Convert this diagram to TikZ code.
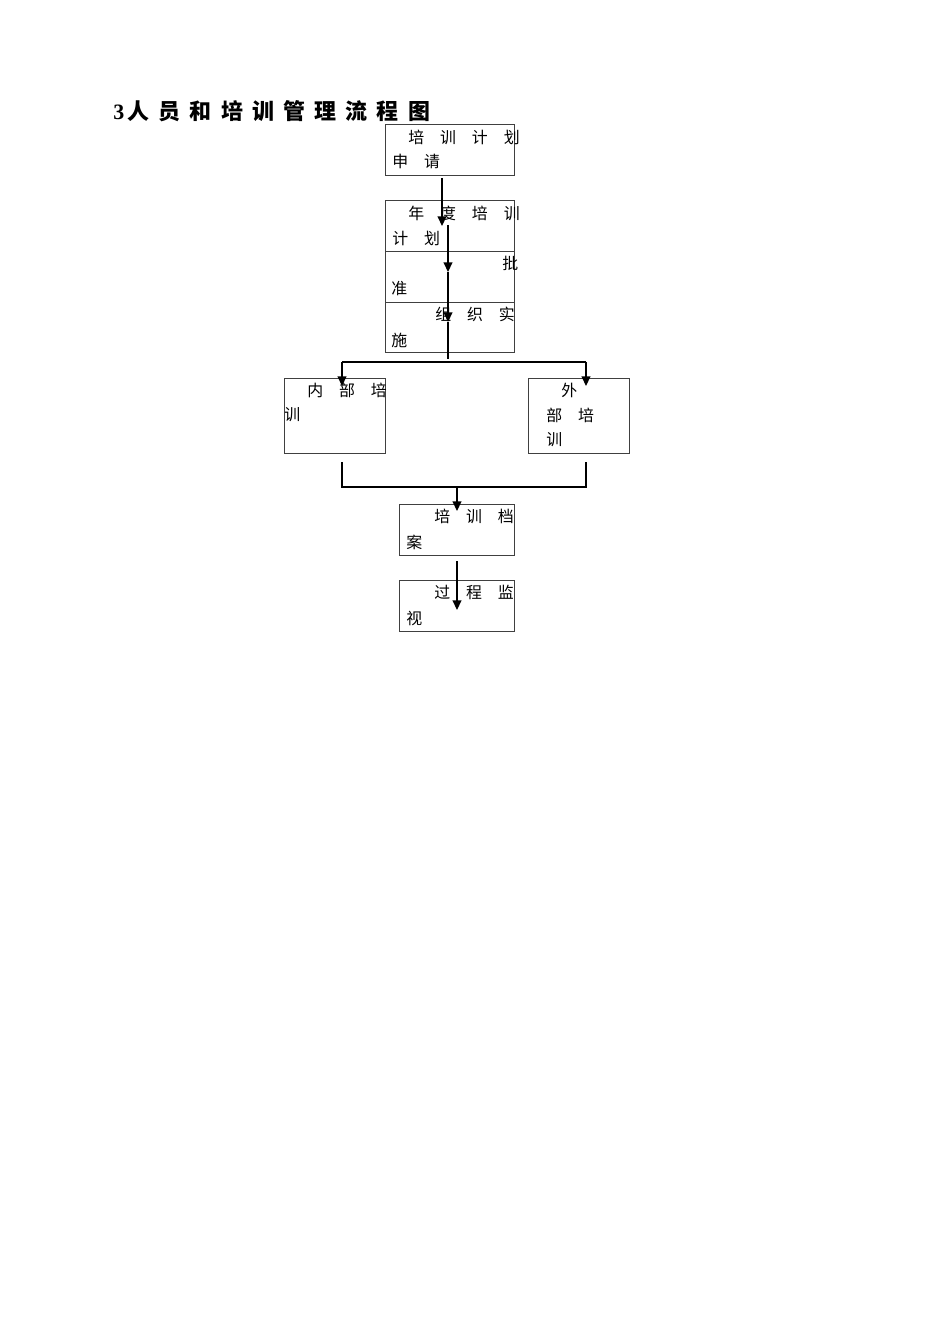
\documentclass[tikz,border=0pt]{standalone}
\usepackage{fontspec}
\setmainfont{Liberation Serif}
\newfontfamily\cjk{Noto Sans CJK SC}
\usetikzlibrary{arrows.meta}

\begin{document}
\begin{tikzpicture}[x=0.0221cm,y=-0.0221cm,
    box/.style={draw=black!75,line width=0.5pt},
    txt/.style={anchor=west,inner sep=0pt,font=\cjk\fontsize{10}{12}\selectfont},
    flow/.style={line width=0.75pt},
    arr/.style={flow,-{Triangle[length=6pt,width=5.5pt]}}]
  \useasboundingbox (0,0) rectangle (950,1344);
  \node[anchor=west,inner sep=0pt,font=\fontsize{13.8}{16}\selectfont\bfseries] (title) at (113,111)
    {3\hspace{0.15em}{\cjk 人\hspace{0.42em}员\hspace{0.42em}和\hspace{0.42em}培\hspace{0.42em}训\hspace{0.42em}管\hspace{0.42em}理\hspace{0.42em}流\hspace{0.42em}程\hspace{0.42em}图}};
  % boxes
  \draw[box] (385,124) rectangle (514,175) node[pos=.5] (apply) {};
  \draw[box] (385,200) rectangle (514,251) node[pos=.5] (plan) {};
  \draw[box] (385,251) rectangle (514,302) node[pos=.5] (approve) {};
  \draw[box] (385,302) rectangle (514,352) node[pos=.5] (carry) {};
  \draw[box] (284,378) rectangle (385,453) node[pos=.5] (inner) {};
  \draw[box] (528,378) rectangle (629,453) node[pos=.5] (outer) {};
  \draw[box] (399,504) rectangle (514,555) node[pos=.5] (record) {};
  \draw[box] (399,580) rectangle (514,631) node[pos=.5] (monitor) {};
  % texts
  \node[txt] (t1a) at (408,137) {培\quad 训\quad 计\quad 划};
  \node[txt] (t1b) at (392,161) {申\quad 请};
  \node[txt] (t2a) at (408,213) {年\quad 度\quad 培\quad 训};
  \node[txt] (t2b) at (392,238) {计\quad 划};
  \node[txt] (t3a) at (502,263) {批};
  \node[txt] (t3b) at (391,289) {准};
  \node[txt] (t4a) at (435,314) {组\quad 织\quad 实};
  \node[txt] (t4b) at (391,340) {施};
  \node[txt] (t5a) at (307,390) {内\quad 部\quad 培};
  \node[txt] (t5b) at (284,415) {训};
  \node[txt] (t6a) at (561,390) {外};
  \node[txt] (t6b) at (546,415) {部\quad 培};
  \node[txt] (t6c) at (546,440) {训};
  \node[txt] (t7a) at (434,516) {培\quad 训\quad 档};
  \node[txt] (t7b) at (406,542) {案};
  \node[txt] (t8a) at (434,592) {过\quad 程\quad 监};
  \node[txt] (t8b) at (406,618) {视};
  % connectors
  \coordinate (a1) at (442,178); \coordinate (a2) at (442,226);
  \coordinate (m1) at (448,225); \coordinate (m2) at (448,272);
  \coordinate (m3) at (448,322); \coordinate (m4) at (448,359);
  \coordinate (sl) at (342,362); \coordinate (sr) at (586,362);
  \coordinate (il) at (342,386); \coordinate (ir) at (586,386);
  \coordinate (jl) at (342,462); \coordinate (jr) at (586,462);
  \coordinate (jm) at (457,487); \coordinate (je) at (457,511);
  \coordinate (k1) at (457,561); \coordinate (k2) at (457,610);
  \draw[arr] (a1) -- (a2);
  \draw[arr] (m1) -- (m2);
  \draw[arr] (m2) -- (m3);
  \draw[flow] (m3) -- (m4);
  \draw[flow] (sl) -- (sr);
  \draw[arr] (sl) -- (il);
  \draw[arr] (sr) -- (ir);
  \draw[flow] (jl) |- (jm) -| (jr);
  \draw[arr] (jm) -- (je);
  \draw[arr] (k1) -- (k2);
\end{tikzpicture}
\end{document}
